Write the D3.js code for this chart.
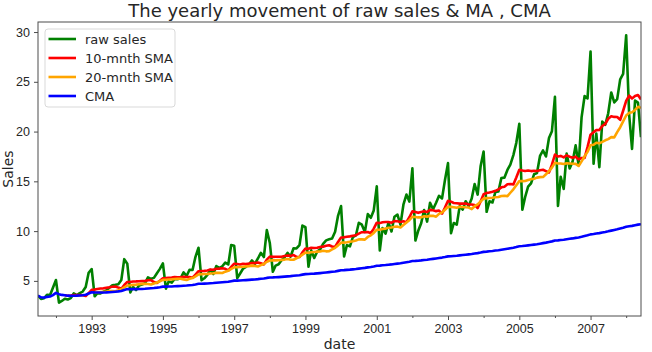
<!DOCTYPE html>
<html>
<head>
<meta charset="utf-8">
<script src="https://cdn.jsdelivr.net/npm/d3@7"></script>
<style>
  body { margin: 0; background: #fff; }
  svg { font-family: "DejaVu Sans", sans-serif; }
  .axis text { fill: #262626; font-size: 12.5px; }
  .axis path, .axis line { stroke: #4d4d4d; }
</style>
</head>
<body>
<svg id="svg" width="652" height="352"></svg>
<script>
// monthly sales, starting July 1991
const firstMonth = new Date(1991, 6, 1);
const sales = [
  3.526591, 3.180891, 3.252221, 3.611003, 3.565869, 4.306371,
  5.088335, 2.814520, 2.985811, 3.204780, 3.127578, 3.270523, 3.737851, 3.558776, 3.777202, 3.924490, 4.386531, 5.810549,
  6.192068, 3.450857, 3.772307, 3.734303, 3.905399, 4.049687, 4.315566, 4.562185, 4.608662, 4.667851, 5.093841, 7.179962,
  6.731473, 3.841278, 4.394076, 4.075341, 4.540645, 4.645615, 4.752607, 5.350605, 5.204455, 5.301651, 5.773742, 6.204593,
  6.749484, 4.216067, 4.949349, 4.823045, 5.194754, 5.170787, 5.256742, 5.855277, 5.490729, 6.115293, 6.088473, 7.416598,
  8.329452, 5.069796, 5.262557, 5.597126, 6.110296, 5.689161, 6.486849, 6.300569, 6.467476, 6.828629, 6.649078, 8.606937,
  8.524471, 5.277918, 5.714303, 6.214529, 6.411929, 6.667716, 7.050831, 6.704919, 7.250988, 7.819733, 7.398101, 10.096233,
  8.798513, 5.918261, 6.534493, 6.675736, 7.064201, 7.383381, 7.813496, 7.431892, 8.275117, 8.260441, 8.596156, 10.558939,
  10.391122, 6.421606, 8.062619, 7.297739, 7.936916, 8.165323, 8.717420, 9.070964, 9.177113, 9.251887, 9.933136, 11.532974,
  12.511462, 7.457199, 8.591191, 8.474000, 9.386803, 9.560399, 10.834295, 10.643751, 9.908162, 11.710041, 11.340151, 12.079132,
  14.497581, 8.049275, 10.312891, 9.753358, 10.850382, 9.961719, 11.443601, 11.659239, 10.647060, 12.652134, 13.674466, 12.965735,
  16.300269, 9.053485, 10.002449, 10.788750, 12.106705, 10.954101, 12.844566, 12.196500, 12.854748, 13.542004, 13.287640, 15.134918,
  16.828350, 9.800215, 10.816994, 10.654223, 12.512323, 12.161210, 12.998046, 12.517276, 13.268658, 14.733622, 13.669382, 16.503966,
  18.003768, 11.938030, 12.997900, 12.882645, 13.943447, 13.989472, 15.339097, 15.370764, 16.142005, 16.685754, 17.636728, 18.869325,
  20.778723, 12.154552, 13.402392, 14.459239, 14.795102, 15.705248, 15.829550, 17.554701, 18.100864, 17.496668, 19.347265, 20.031291,
  23.486694, 12.536987, 15.467018, 14.233539, 17.783058, 16.291602, 16.980282, 18.612189, 16.623343, 21.430241, 23.575517, 23.334206,
  28.038383, 16.763869, 19.792754, 16.427305, 21.000742, 20.681002, 21.834890, 23.930204, 22.930357, 23.263340, 25.250030, 25.806090,
  29.665356, 21.654285, 18.264945, 23.107677, 22.912510, 19.431740
];
const seriesNames = ['raw sales', '10-mnth SMA', '20-mnth SMA', 'CMA'];
const seriesColors = ['green', 'red', 'orange', 'blue'];
const yTicks = [5, 10, 15, 20, 25, 30];

window.onload = function() {
  drawChart();
};

const rolling = function(values, n) {
  return values.map((v, i) => (i < n - 1 ? null : d3.mean(values.slice(i - n + 1, i + 1))));
};

const expanding = function(values) {
  return values.map((v, i) => d3.mean(values.slice(0, i + 1)));
};

const drawChart = function() {
  const svg = d3.select('#svg');
  const margin = { top: 22, right: 11, bottom: 36, left: 38 };
  const width = 652 - margin.left - margin.right;
  const height = 352 - margin.top - margin.bottom;

  const dates = sales.map((v, i) => d3.timeMonth.offset(firstMonth, i));
  const series = [sales, rolling(sales, 10), rolling(sales, 20), expanding(sales)];

  const xScale = d3.scaleTime().domain(d3.extent(dates)).range([0, width]);
  const yMin = d3.min(sales), yMax = d3.max(sales);
  const pad = (yMax - yMin) * 0.05;
  const yScale = d3.scaleLinear().domain([yMin - pad, yMax + pad]).range([height, 0]);

  const g = svg.append('g').attr('transform', 'translate(' + margin.left + ',' + margin.top + ')');

  const years = d3.timeYear.range(new Date(1992, 0, 1), new Date(2009, 0, 1));
  const majorYears = years.filter(d => d.getFullYear() % 2 === 1);
  const minorYears = years.filter(d => d.getFullYear() % 2 === 0);

  g.append('defs').append('clipPath').attr('id', 'clip')
    .append('rect').attr('width', width).attr('height', height);

  const line = d3.line()
    .defined(d => d[1] !== null)
    .x(d => xScale(d[0]))
    .y(d => yScale(d[1]));

  const lines = g.append('g').attr('clip-path', 'url(#clip)');
  series.forEach((s, k) => {
    lines.append('path')
      .datum(s.map((v, i) => [dates[i], v]))
      .attr('fill', 'none')
      .attr('stroke', seriesColors[k])
      .attr('stroke-width', 2.6)
      .attr('stroke-linejoin', 'round')
      .attr('d', line);
  });

  // axes
  g.append('g').classed('axis', true)
    .attr('transform', 'translate(0,' + height + ')')
    .call(d3.axisBottom(xScale).tickValues(majorYears).tickFormat(d3.timeFormat('%Y')).tickSizeInner(4).tickSizeOuter(0).tickPadding(4))
    .call(a => a.select('.domain').remove());
  g.append('g').classed('axis', true)
    .attr('transform', 'translate(0,' + height + ')')
    .call(d3.axisBottom(xScale).tickValues(minorYears).tickFormat('').tickSizeInner(2).tickSizeOuter(0))
    .call(a => a.select('.domain').remove());
  g.append('g').classed('axis', true)
    .call(d3.axisLeft(yScale).tickValues(yTicks).tickSizeInner(4).tickSizeOuter(0).tickPadding(4))
    .call(a => a.select('.domain').remove());

  g.append('rect')
    .attr('width', width).attr('height', height)
    .attr('fill', 'none').attr('stroke', '#4d4d4d').attr('stroke-width', 1);

  svg.append('text')
    .attr('x', margin.left + width / 2).attr('y', 17)
    .attr('text-anchor', 'middle')
    .style('font-size', '18px').style('fill', '#262626')
    .text('The yearly movement of raw sales & MA , CMA');

  svg.append('text')
    .attr('x', margin.left + width / 2).attr('y', 349)
    .attr('text-anchor', 'middle')
    .style('font-size', '14px').style('fill', '#262626')
    .text('date');

  svg.append('text')
    .attr('transform', 'translate(12.5,' + (margin.top + height / 2) + ') rotate(-90)')
    .attr('text-anchor', 'middle')
    .style('font-size', '14px').style('fill', '#262626')
    .text('Sales');

  // legend
  const legend = g.append('g').attr('transform', 'translate(7,7)');
  legend.append('rect')
    .attr('width', 130).attr('height', 78).attr('rx', 3)
    .attr('fill', '#fff').attr('fill-opacity', 0.8)
    .attr('stroke', '#d9d9d9');
  seriesNames.forEach((name, k) => {
    const y = 10 + k * 19;
    legend.append('line')
      .attr('x1', 3.5).attr('x2', 31).attr('y1', y).attr('y2', y)
      .attr('stroke', seriesColors[k]).attr('stroke-width', 2.6);
    legend.append('text')
      .attr('x', 40).attr('y', y + 4.5)
      .style('font-size', '13px').style('fill', '#262626')
      .text(name);
  });
};
</script>
</body>
</html>
